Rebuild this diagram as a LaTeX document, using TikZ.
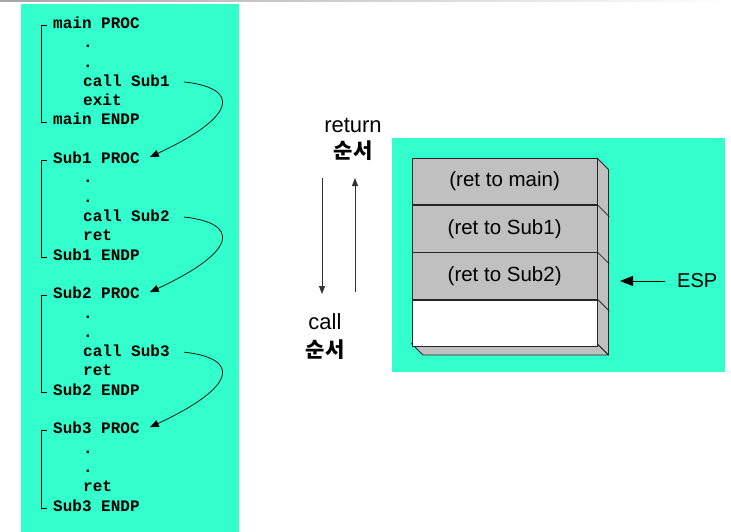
\documentclass[tikz,border=0pt]{standalone}
\usepackage{fontspec}
\setmainfont{Liberation Sans}
\newfontfamily\codefont{Liberation Mono}
\newfontfamily\kr{Noto Sans CJK KR}
\usetikzlibrary{arrows.meta,calc}
\definecolor{aqua}{RGB}{51,255,204}
\definecolor{stackgray}{RGB}{192,192,192}
\begin{document}
\begin{tikzpicture}[x=1pt,y=-1pt,
  code/.style={font=\codefont\bfseries\fontsize{16}{16}\selectfont, inner sep=0pt, text height=9pt, text depth=0pt, anchor=west},
  brk/.style={line width=0.9pt},
  callarrow/.style={line width=0.7pt,-{Triangle[length=9pt,width=7pt]}},
  orderarrow/.style={line width=0.9pt, draw=black!80, -{Triangle[length=8pt,width=6pt]}},
  row/.style={draw=black!85, line width=0.8pt, fill=stackgray, minimum width=185.5pt, minimum height=46.4pt, inner sep=0pt, font=\fontsize{20.5}{22}\selectfont},
  label/.style={font=\fontsize{22}{24}\selectfont, inner sep=0pt},
  klabel/.style={font=\kr\bfseries\fontsize{21}{24}\selectfont, inner sep=0pt},
  face/.style={draw=black!85, line width=0.8pt, fill=stackgray, line join=round}]
% background and bounding box
\fill[white] (0,0) rectangle (731,532);
\useasboundingbox (0,0) rectangle (731,532);
\shade[left color=black!35, right color=white] (0,0) rectangle (731,1.6);
% panels
\fill[aqua] (21,4) rectangle (239,532);
\fill[aqua] (392,138.5) rectangle (725,372);

% ---- code: main
\node[code] (m0) at (53,24) {main PROC};
\node[code] (m1) at (83,43.3) {.};
\node[code] (m2) at (83,62.6) {.};
\node[code] (m3) at (83,81.9) {call Sub1};
\node[code] (m4) at (83,101.2) {exit};
\node[code] (m5) at (53,120.5) {main ENDP};
% ---- Sub1
\node[code] (a0) at (53,159.1) {Sub1 PROC};
\node[code] (a1) at (83,178.4) {.};
\node[code] (a2) at (83,197.7) {.};
\node[code] (a3) at (83,217) {call Sub2};
\node[code] (a4) at (83,236.3) {ret};
\node[code] (a5) at (53,255.6) {Sub1 ENDP};
% ---- Sub2
\node[code] (b0) at (53,294.2) {Sub2 PROC};
\node[code] (b1) at (83,313.5) {.};
\node[code] (b2) at (83,332.8) {.};
\node[code] (b3) at (83,352.1) {call Sub3};
\node[code] (b4) at (83,371.4) {ret};
\node[code] (b5) at (53,390.7) {Sub2 ENDP};
% ---- Sub3
\node[code] (c0) at (53,429.3) {Sub3 PROC};
\node[code] (c1) at (83,448.6) {.};
\node[code] (c2) at (83,467.9) {.};
\node[code] (c3) at (83,487.2) {ret};
\node[code] (c4) at (53,506.5) {Sub3 ENDP};

% brackets
\draw[brk] (47,25.5) -- (41,25.5) -- (41,122.5) -- (47,122.5);
\draw[brk] (47,160.6) -- (41,160.6) -- (41,257.6) -- (47,257.6);
\draw[brk] (47,295.7) -- (41,295.7) -- (41,392.7) -- (47,392.7);
\draw[brk] (47,430.8) -- (41,430.8) -- (41,508.5) -- (47,508.5);

% call arrows
\coordinate (s1) at ($(m3.east)+(14,0)$);
\coordinate (t1) at ($(a0.east)+(10,-2)$);
\coordinate (s2) at ($(a3.east)+(14,0)$);
\coordinate (t2) at ($(b0.east)+(10,-2)$);
\coordinate (s3) at ($(b3.east)+(14,0)$);
\coordinate (t3) at ($(c0.east)+(10,-2)$);
\draw[callarrow] (s1) .. controls +(55,6) and +(90,-42) .. (t1);
\draw[callarrow] (s2) .. controls +(55,6) and +(90,-42) .. (t2);
\draw[callarrow] (s3) .. controls +(55,6) and +(90,-42) .. (t3);

% order labels and arrows
\node[label] (ret) at (353,125) {return};
\node[klabel] (retk) at (353,151) {순서};
\node[label] (call) at (325,322) {call};
\node[klabel] (callk) at (325,350) {순서};
\coordinate (dtop) at (322,178);
\coordinate (dbot) at (322,294);
\coordinate (ubot) at (355,292);
\coordinate (utop) at (355,178);
\draw[orderarrow] (dtop) -- (dbot);
\draw[orderarrow] (ubot) -- (utop);

% stack
\path[face] (411.5,343.5) -- (597,343.5) -- (608.5,355) -- (423,355) -- cycle;
\path[face] (597,158) -- (608.5,169.5) -- (608.5,355) -- (597,343.5) -- cycle;
\node[row, anchor=north west] (r1) at (411.5,158) {(ret to main)};
\node[row, anchor=north] (r2) at (r1.south) {(ret to Sub1)};
\node[row, anchor=north] (r3) at (r2.south) {(ret to Sub2)};
\node[row, anchor=north, fill=white] (r4) at (r3.south) {};
\draw[draw=black!85, line width=0.8pt] (r1.south east) -- ++(11.5,11.5);
\draw[draw=black!85, line width=0.8pt] (r2.south east) -- ++(11.5,11.5);
\draw[draw=black!85, line width=0.8pt] (r3.south east) -- ++(11.5,11.5);

% ESP
\node[font=\fontsize{20}{22}\selectfont, inner sep=0pt, anchor=west] (esp) at (677,281) {ESP};
\coordinate (esptip) at (620,281);
\draw[line width=0.9pt, -{Triangle[length=13pt,width=10pt]}] ([xshift=-12pt]esp.west) -- (esptip);
\end{tikzpicture}
\end{document}
